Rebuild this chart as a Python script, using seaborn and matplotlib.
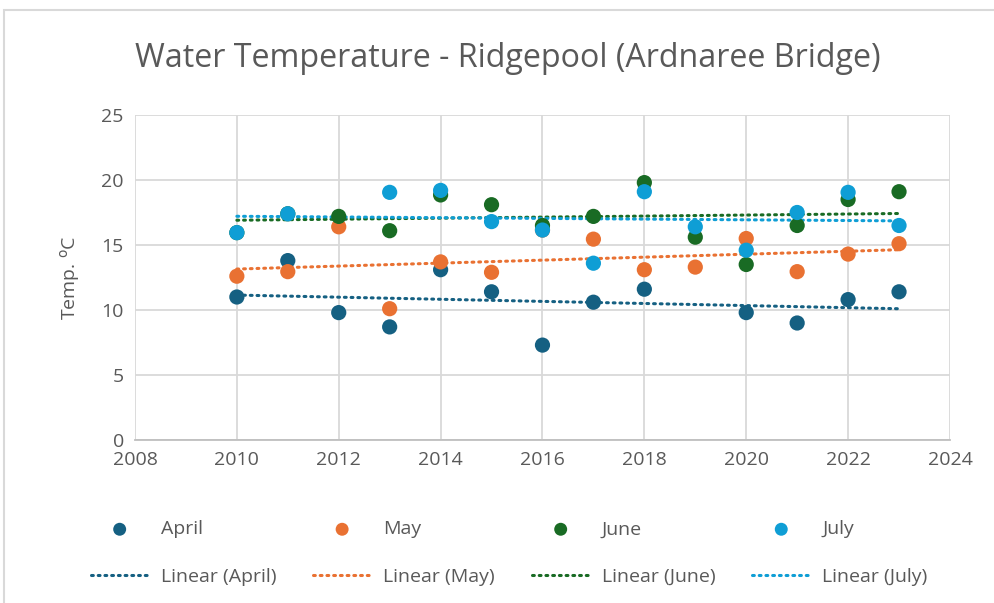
import matplotlib

matplotlib.use("Agg")

import matplotlib.pyplot as plt
import numpy as np
import pandas as pd
import seaborn as sns
from matplotlib.patches import Rectangle

# Valores (None = sem medicao; alguns pontos ficam escondidos atras de outros)
years = [2010, 2011, 2012, 2013, 2014, 2015, 2016, 2017, 2018, 2019, 2020, 2021, 2022, 2023]
april = [11.0, 13.8, 9.8, 8.7, 13.1, 11.4, 7.3, 10.6, 11.6, None, 9.8, 9.0, 10.8, 11.4]
may = [12.6, 12.95, 16.4, 10.1, 13.7, 12.9, 16.15, 15.45, 13.1, 13.3, 15.5, 12.95, 14.3, 15.1]
june = [15.95, 17.4, 17.2, 16.1, 18.85, 18.1, 16.5, 17.2, 19.8, 15.6, 13.5, 16.5, 18.5, 19.1]
july = [15.95, 17.4, None, 19.05, 19.2, 16.8, 16.15, 13.6, 19.1, 16.4, 14.6, 17.5, 19.05, 16.5]

months = ["April", "May", "June", "July"]
colors = ["#156082", "#E97132", "#196B24", "#0F9ED5"]
x_ticks = list(range(2008, 2025, 2))
y_ticks = list(range(0, 26, 5))

df = pd.DataFrame({"Year": years, "April": april, "May": may, "June": june, "July": july})
long_df = df.melt(id_vars="Year", var_name="Month", value_name="Temp").dropna()

sns.set_theme(style="white")
plt.rcParams["font.family"] = ["Open Sans", "DejaVu Sans"]
text_color = "#595959"
grid_color = "#D9D9D9"

fig = plt.figure(figsize=(9.94, 6.03), dpi=100)
ax = fig.add_axes([0.1358, 0.2703, 0.8199, 0.539])

for month, color in zip(months, colors):
    sub = long_df[long_df["Month"] == month]
    sns.scatterplot(data=sub, x="Year", y="Temp", color=color, s=120,
                    edgecolor="none", ax=ax, zorder=3, label=month)

trend_handles = []
for month, color in zip(months, colors):
    sub = long_df[long_df["Month"] == month]
    slope, intercept = np.polyfit(sub["Year"], sub["Temp"], 1)
    xs = np.array([sub["Year"].min(), sub["Year"].max()])
    (line,) = ax.plot(xs, slope * xs + intercept, color=color, lw=2.2,
                      linestyle=(0, (0.6, 1.6)), dash_capstyle="round",
                      zorder=2, label=f"Linear ({month})")
    trend_handles.append(line)

ax.set_xlim(2008, 2024)
ax.set_ylim(0, 25)
ax.set_xticks(x_ticks)
ax.set_yticks(y_ticks)
ax.grid(True, color=grid_color, lw=1.3)
ax.set_axisbelow(True)
for side in ["top", "right", "left"]:
    ax.spines[side].set_visible(False)
ax.spines["bottom"].set_color("#BFBFBF")
ax.spines["bottom"].set_linewidth(1.3)
ax.tick_params(axis="both", colors=text_color, labelsize=14, length=0, pad=8)
ax.set_xlabel("")
ax.set_ylabel(r"Temp. $^{\mathrm{o}}$C", color=text_color, fontsize=14, labelpad=14)

fig.suptitle("Water Temperature - Ridgepool (Ardnaree Bridge)", color=text_color,
             fontsize=23.2, y=0.903, va="center", x=0.511)

scatter_handles, _ = ax.get_legend_handles_labels()
scatter_handles = scatter_handles[:4]
if ax.legend_:
    ax.legend_.remove()
ordered = []
for sh, th in zip(scatter_handles, trend_handles):
    ordered.extend([sh, th])
fig.legend(handles=ordered, labels=[h.get_label() for h in ordered], ncol=4,
           loc="center", bbox_to_anchor=(0.512, 0.083), frameon=False,
           fontsize=14, labelcolor=text_color, handlelength=3.0,
           handletextpad=0.6, columnspacing=1.9, labelspacing=1.5,
           markerscale=0.85)

fig.add_artist(Rectangle((0.004, -0.1), 1.2, 1.083, transform=fig.transFigure,
                         fill=False, edgecolor=grid_color, lw=1.5))

plt.savefig("out.png", dpi=100)
plt.close()
